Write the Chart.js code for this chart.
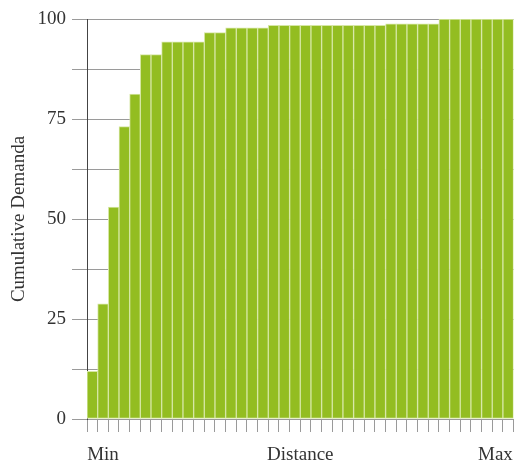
<!DOCTYPE html>
<html>
<head>
<meta charset="utf-8">
<script src="https://cdn.jsdelivr.net/npm/chart.js@4.4.0/dist/chart.umd.min.js"></script>
<style>
  html, body { margin:0; padding:0; background:#fff; }
  #wrap { width:517px; height:462px; }
</style>
</head>
<body>
<div id="wrap"><canvas id="c"></canvas></div>
<script>
// cumulative demand per distance band, min -> max (40 bands)
const BANDS = Array.from({length:40}, (_, i) => 'd' + (i + 1));
const DEMAND = [
  11.9, 28.8, 53, 73.1, 81.2, 91.1, 91.1, 94.3, 94.3, 94.3,
  94.3, 96.6, 96.6, 97.8, 97.8, 97.8, 97.8, 98.4, 98.4, 98.4,
  98.4, 98.4, 98.4, 98.4, 98.4, 98.4, 98.4, 98.4, 98.8, 98.8,
  98.8, 98.8, 98.8, 100, 100, 100, 100, 100, 100, 100
];
const AXIS_LABELS = ['Min', 'Distance', 'Max'];
const AXIS_LABEL_AT = [1.5, 20, 38.3];   // in band units along the x axis
const Y_LABELS = [0, 25, 50, 75, 100];

const serif = 'Liberation Serif';
const txt = '#333';

new Chart(document.getElementById('c'), {
  type: 'bar',
  data: {
    labels: BANDS,
    datasets: [{
      data: DEMAND,
      backgroundColor: '#93bd21',
      borderColor: '#d6e7a4',
      borderWidth: 1,
      borderSkipped: false,
      categoryPercentage: 1,
      barPercentage: 1
    }]
  },
  options: {
    responsive: true,
    maintainAspectRatio: false,
    animation: false,
    layout: { padding: { top: 19, right: 3, left: 0, bottom: 0 } },
    plugins: { legend: { display: false }, tooltip: { enabled: false } },
    scales: {
      x: {
        ticks: { display: false },
        grid: { drawOnChartArea: false, drawTicks: true, tickLength: 13, color: '#9a9a9a', lineWidth: 1 },
        border: { display: false },
        afterFit: s => { s.height = 13; }
      },
      x2: {
        type: 'linear',
        position: 'bottom',
        offset: false,
        min: 0, max: 40,
        afterBuildTicks: s => { s.ticks = AXIS_LABEL_AT.map(v => ({ value: v })); },
        ticks: {
          autoSkip: false,
          maxRotation: 0,
          padding: 4,
          color: txt,
          font: { family: serif, size: 19 },
          callback: (v, i) => AXIS_LABELS[i]
        },
        grid: { display: false },
        border: { display: false },
        afterFit: s => { s.height = 30; }
      },
      y: {
        min: 0, max: 100,
        afterBuildTicks: s => { s.ticks = Array.from({length:9}, (_, i) => ({ value: i * 12.5 })); },
        ticks: {
          padding: 6,
          color: txt,
          font: { family: serif, size: 19 },
          callback: v => Y_LABELS.includes(v) ? v : ''
        },
        grid: { color: '#9a9a9a', lineWidth: 1, tickLength: 15 },
        border: { display: true, color: '#444', width: 1 },
        title: {
          display: true,
          text: 'Cumulative Demanda',
          color: txt,
          font: { family: serif, size: 19 },
          padding: { top: 8, bottom: 2 }
        },
        afterFit: s => { s.width = 87; }
      }
    }
  }
});
</script>
</body>
</html>
